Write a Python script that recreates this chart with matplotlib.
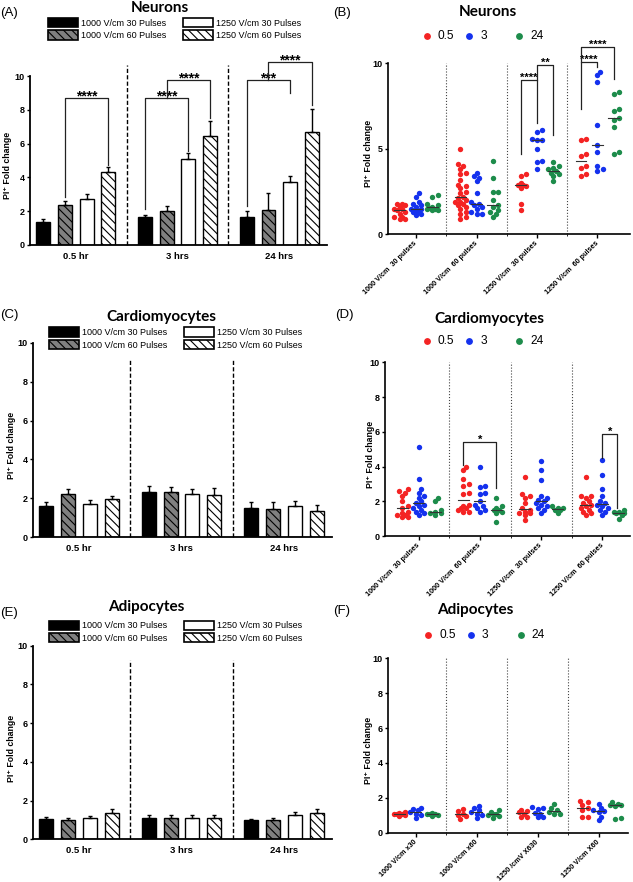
import numpy as np
import matplotlib
matplotlib.use("Agg")
import matplotlib.pyplot as plt
from matplotlib.patches import Patch
from matplotlib.lines import Line2D

plt.rcParams['font.family'] = ['Liberation Sans', 'DejaVu Sans']
plt.rcParams['hatch.linewidth'] = 0.8

# ---------------- data ----------------
timepoints = ['0.5 hr', '3 hrs', '24 hrs']
series_labels = ['1000 V/cm 30 Pulses', '1000 V/cm 60 Pulses',
                 '1250 V/cm 30 Pulses', '1250 V/cm 60 Pulses']

# Neurons (A) means / upper SEM per time point
neu_1000_30 = [1.38, 1.66, 1.68]
neu_1000_60 = [2.37, 2.03, 2.07]
neu_1250_30 = [2.72, 5.10, 3.71]
neu_1250_60 = [4.34, 6.47, 6.70]
neu_err_1000_30 = [0.14, 0.14, 0.35]
neu_err_1000_60 = [0.21, 0.28, 1.03]
neu_err_1250_30 = [0.28, 0.32, 0.37]
neu_err_1250_60 = [0.29, 0.89, 1.37]

# Cardiomyocytes (C)
car_1000_30 = [1.63, 2.35, 1.49]
car_1000_60 = [2.21, 2.31, 1.47]
car_1250_30 = [1.71, 2.23, 1.59]
car_1250_60 = [1.97, 2.19, 1.37]
car_err_1000_30 = [0.20, 0.29, 0.34]
car_err_1000_60 = [0.26, 0.26, 0.36]
car_err_1250_30 = [0.21, 0.27, 0.28]
car_err_1250_60 = [0.17, 0.33, 0.29]

# Adipocytes (E)
adi_1000_30 = [1.07, 1.12, 1.00]
adi_1000_60 = [1.02, 1.12, 1.00]
adi_1250_30 = [1.08, 1.10, 1.24]
adi_1250_60 = [1.34, 1.12, 1.36]
adi_err_1000_30 = [0.08, 0.13, 0.07]
adi_err_1000_60 = [0.10, 0.13, 0.10]
adi_err_1250_30 = [0.12, 0.15, 0.15]
adi_err_1250_60 = [0.23, 0.13, 0.21]

# Scatter panels: conditions and time points (h)
conditions_bd = ['1000 V/cm  30 pulses', '1000 V/cm  60 pulses',
                 '1250 V/cm  30 pulses', '1250 V/cm  60 pulses']
conditions_f = ['1000 V/cm x30', '1000 V/cm x60', '1250 /cmV X630', '1250 V/cm X60']
time_labels = ['0.5', '3', '24']

# Neurons (B): one list per condition
neu_t05 = [[1.8, 1.8, 1.7, 1.6, 1.5, 1.5, 1.4, 1.3, 1.2, 1.0, 1.0, 0.9, 0.9],
           [5.0, 4.1, 4.0, 3.8, 3.6, 3.5, 3.2, 2.9, 2.8, 2.7, 2.5, 2.4, 2.2,
            2.1, 2.0, 1.9, 1.9, 1.8, 1.7, 1.6, 1.5, 1.3, 1.2, 1.0, 0.9],
           [3.5, 3.4, 3.0, 2.9, 2.9, 2.8, 2.7, 1.8, 1.4],
           [5.5, 5.6, 4.6, 4.7, 4.0, 3.9, 3.5, 3.4]]
neu_t3 = [[2.4, 2.2, 1.9, 1.8, 1.7, 1.6, 1.5, 1.5, 1.4, 1.3, 1.3, 1.2, 1.1],
          [3.6, 3.4, 3.3, 3.1, 2.4, 1.9, 1.8, 1.7, 1.6, 1.5, 1.3, 1.2, 1.2],
          [6.1, 6.0, 5.6, 5.5, 5.5, 5.0, 4.3, 4.2, 3.8],
          [9.5, 9.3, 8.9, 6.4, 5.2, 4.8, 4.0, 3.8, 3.7]]
neu_t24 = [[2.3, 2.2, 1.8, 1.7, 1.6, 1.55, 1.5, 1.5, 1.45, 1.4],
           [4.3, 3.3, 2.5, 2.5, 2.0, 1.7, 1.6, 1.4, 1.3, 1.2, 1.0],
           [4.2, 4.0, 3.9, 3.8, 3.7, 3.6, 3.5, 3.4, 3.1],
           [8.3, 8.2, 7.3, 7.2, 6.8, 6.7, 6.3, 4.8, 4.7]]

# Cardiomyocytes (D)
car_t05 = [[2.7, 2.6, 2.5, 2.3, 2.0, 1.7, 1.6, 1.4, 1.3, 1.2, 1.2, 1.1, 1.1],
           [4.0, 3.8, 3.3, 3.0, 2.9, 2.5, 2.4, 1.8, 1.7, 1.6, 1.6, 1.5, 1.4, 1.4],
           [3.4, 2.4, 2.3, 2.2, 1.9, 1.6, 1.5, 1.4, 1.3, 1.3, 1.2, 0.9],
           [3.4, 2.3, 2.3, 2.2, 2.0, 1.9, 1.8, 1.7, 1.6, 1.5, 1.4, 1.3, 1.2]]
car_t3 = [[5.1, 3.3, 2.7, 2.5, 2.3, 2.2, 2.0, 1.9, 1.8, 1.7, 1.6, 1.5, 1.4, 1.3, 1.2],
          [4.0, 2.9, 2.8, 2.5, 2.4, 2.0, 1.8, 1.7, 1.6, 1.5, 1.4],
          [4.3, 3.8, 3.2, 2.3, 2.2, 2.1, 2.0, 1.9, 1.8, 1.7, 1.6, 1.5, 1.3],
          [4.4, 3.5, 2.7, 2.3, 2.0, 1.9, 1.8, 1.7, 1.6, 1.5, 1.4, 1.2]]
car_t24 = [[2.2, 2.0, 1.5, 1.4, 1.3, 1.3, 1.2],
           [2.2, 1.7, 1.6, 1.5, 1.5, 1.4, 1.3, 0.8],
           [1.7, 1.6, 1.6, 1.5, 1.5, 1.3],
           [1.5, 1.4, 1.4, 1.3, 1.3, 1.2, 1.0]]

# Adipocytes (F)
adi_t05 = [[1.2, 1.15, 1.1, 1.1, 1.05, 1.0, 0.95],
           [1.35, 1.25, 1.1, 1.0, 0.95, 0.8],
           [1.3, 1.25, 1.2, 1.1, 0.9, 0.9],
           [1.8, 1.75, 1.6, 1.4, 1.3, 0.9, 0.9]]
adi_t3 = [[1.4, 1.35, 1.3, 1.2, 1.1, 1.0, 0.85],
          [1.55, 1.4, 1.3, 1.2, 1.1, 1.0, 0.85],
          [1.5, 1.4, 1.35, 1.15, 1.1, 0.9, 0.9],
          [1.65, 1.4, 1.3, 1.25, 1.2, 0.9, 0.7]]
adi_t24 = [[1.15, 1.1, 1.05, 1.05, 1.0, 0.95],
           [1.3, 1.2, 1.1, 1.05, 1.0, 0.95, 0.85],
           [1.65, 1.4, 1.3, 1.2, 1.1, 1.1],
           [1.75, 1.65, 1.6, 1.6, 1.55, 0.85, 0.8]]

# ---------------- styling ----------------
W, H = 633, 882
fig = plt.figure(figsize=(W / 100, H / 100), dpi=100)

GROUP = 4.68
BAR_W = 0.64
bar_styles = [('black', None), ('#808080', '\\\\\\\\'), ('white', None), ('white', '\\\\\\\\')]
time_colors = ['#f42323', '#1431ee', '#1d8c4b']
TIME_OFF = [-0.27, 0.0, 0.27]


def add_ax(l, t, r, b):
    return fig.add_axes([l / W, 1 - b / H, (r - l) / W, (b - t) / H])


def style_axes(ax, lw=1.3):
    for s in ['top', 'right']:
        ax.spines[s].set_visible(False)
    for s in ['left', 'bottom']:
        ax.spines[s].set_linewidth(lw)
    ax.tick_params(axis='y', length=2.5, width=1, pad=1.5, labelsize=6.5)
    for lab in ax.get_yticklabels():
        lab.set_fontweight('bold')


def bracket(ax, x1, x2, y, yb1, yb2, txt, fs=8, dy=-0.6):
    ax.plot([x1, x1, x2, x2], [yb1, y, y, yb2], color='#222222', lw=0.9, clip_on=False, zorder=5)
    ax.annotate(txt, xy=((x1 + x2) / 2, y), xytext=(0, dy), textcoords='offset points',
                ha='center', va='baseline', fontsize=fs, fontweight='bold',
                annotation_clip=False)


def bar_panel(ax, means, errs, dash_top, label_dx):
    for i, (m, e, (fc, h)) in enumerate(zip(means, errs, bar_styles)):
        x = np.arange(len(timepoints)) * GROUP + i
        ax.bar(x, m, width=BAR_W, color=fc, edgecolor='k', hatch=h, lw=1, zorder=2)
        ax.errorbar(x, m, yerr=[np.zeros(len(m)), e], fmt='none', ecolor='k',
                    elinewidth=1, capsize=1.7, capthick=1, zorder=3)
    ax.set_xlim(-0.6, 13.05)
    ax.set_ylim(0, 10)
    ax.set_yticks(np.arange(0, 11, 2))
    centers = np.arange(len(timepoints)) * GROUP + 1.5
    ax.set_xticks(centers)
    ax.set_xticklabels(timepoints, fontsize=6.8, fontweight='bold')
    ax.tick_params(axis='x', length=0, pad=5)
    for g in range(len(timepoints) - 1):
        xm = g * GROUP + 3 + (GROUP - 3) / 2
        ax.plot([xm, xm], [0, dash_top], ls=(0, (3, 1.6)), color='k', lw=1, clip_on=False)
    style_axes(ax)
    ax.set_ylabel('PI⁺ Fold change', fontsize=6.3, fontweight='bold')
    ax.yaxis.set_label_coords(label_dx, 0.47)


def bar_legend(x, y):
    handles = [Patch(facecolor=fc, edgecolor='k', hatch=h, lw=1.2) for fc, h in bar_styles]
    fig.legend(handles, series_labels, ncol=2, loc='upper left',
               bbox_to_anchor=(x / W, 1 - y / H), frameon=False, fontsize=6.5,
               handlelength=3.3, handleheight=1.2, handletextpad=0.35,
               columnspacing=1.9, labelspacing=0.3, borderpad=0, borderaxespad=0)


def swarm_x(vals, center, xppu, yppu, diam=5.4, max_off=7.5):
    """Deterministic beeswarm-style horizontal spreading of points (layout only)."""
    vals = np.asarray(vals, float)
    xs = np.zeros(len(vals))
    placed = []
    step = diam * 0.5
    nmax = int(max_off / step)
    cands = [0.0]
    for m in range(1, nmax + 1):
        cands += [m * step, -m * step]
    min_d = diam * 0.8
    for i in np.argsort(vals):
        y = vals[i] * yppu
        best, best_d = None, -1
        for off in cands:
            d = min([np.hypot(off - px, y - py) for px, py in placed] + [1e9])
            if d >= min_d:
                best = off
                break
            if d > best_d:
                best, best_d = off, d
        placed.append((best, y))
        xs[i] = center + best / xppu
    return xs


def scatter_panel(ax, series, labels, xlim, px_box, yticks, label_dx):
    l, t, r, b = px_box
    xppu = (r - l) / (xlim[1] - xlim[0])
    yppu = (b - t) / 10
    for ti, ser in enumerate(series):
        for ci, vals in enumerate(ser):
            c = ci + TIME_OFF[ti]
            xs = swarm_x(vals, c, xppu, yppu)
            ax.scatter(xs, vals, s=15, color=time_colors[ti], lw=0, zorder=3)
            ax.plot([c - 0.09, c + 0.09], [np.median(vals)] * 2, color='#333333', lw=0.8, zorder=4)
    ax.set_xlim(*xlim)
    ax.set_ylim(0, 10)
    ax.set_yticks(yticks)
    ax.set_xticks(np.arange(len(labels)))
    ax.set_xticklabels(labels, rotation=45, ha='right', va='center', rotation_mode='anchor',
                       fontsize=5.2, fontweight='bold')
    ax.set_xticks(np.arange(len(labels) - 1) + 0.5, minor=True)
    ax.tick_params(axis='x', which='major', length=3, width=1, pad=3)
    ax.tick_params(axis='x', which='minor', length=1.5, width=0.6)
    for k in range(len(labels) - 1):
        ax.axvline(k + 0.5, ymin=0, ymax=1.0, ls=':', color='#444444', lw=0.8)
    style_axes(ax, lw=1.2)
    ax.set_ylabel('PI⁺ Fold change', fontsize=6.3, fontweight='bold')
    ax.yaxis.set_label_coords(label_dx, 0.47)


def scatter_legend(x_red, y):
    xs = [x_red, x_red + 42.5, x_red + 92.5]
    for x, c, lab in zip(xs, time_colors, time_labels):
        fig.add_artist(Line2D([x / W], [1 - y / H], marker='o', ls='', color=c,
                              markersize=3.9, transform=fig.transFigure))
        fig.text((x + 11) / W, 1 - y / H, lab, fontsize=8.6, ha='left', va='center')


def title(x, y_base, txt):
    fig.text(x / W, 1 - y_base / H, txt, ha='center', va='baseline', fontsize=11,
             fontweight='bold', family=['Lato', 'DejaVu Sans'])


def panel_label(x, y, txt):
    fig.text(x / W, 1 - y / H, txt, ha='left', va='center', fontsize=9.5)


# ---------------- Panel A ----------------
axA = add_ax(30, 76, 327, 245)
bar_panel(axA, [neu_1000_30, neu_1000_60, neu_1250_30, neu_1250_60],
          [neu_err_1000_30, neu_err_1000_60, neu_err_1250_30, neu_err_1250_60],
          10.65, -0.06)
bracket(axA, 1, 3, 8.68, 2.85, 4.75, '****', fs=10, dy=-1.7)
bracket(axA, GROUP, GROUP + 2, 8.68, 2.15, 5.55, '****', fs=10, dy=-1.7)
bracket(axA, GROUP + 1, GROUP + 3, 9.76, 8.68, 7.5, '****', fs=10, dy=-1.7)
bracket(axA, 2 * GROUP, 2 * GROUP + 2, 9.76, 2.3, 8.97, '***', fs=10, dy=-1.7)
bracket(axA, 2 * GROUP + 1, 2 * GROUP + 3, 10.8, 9.76, 8.3, '****', fs=10, dy=-1.7)
bar_legend(48, 18)
title(160, 12, 'Neurons')
panel_label(0, 13, '(A)')

# ---------------- Panel C ----------------
axC = add_ax(33, 342.7, 332, 537.3)
bar_panel(axC, [car_1000_30, car_1000_60, car_1250_30, car_1250_60],
          [car_err_1000_30, car_err_1000_60, car_err_1250_30, car_err_1250_60],
          9.1, -0.057)
bar_legend(49, 327.5)
title(161, 321, 'Cardiomyocytes')
panel_label(0, 315, '(C)')

# ---------------- Panel E ----------------
axE = add_ax(33, 645.7, 332, 839.3)
bar_panel(axE, [adi_1000_30, adi_1000_60, adi_1250_30, adi_1250_60],
          [adi_err_1000_30, adi_err_1000_60, adi_err_1250_30, adi_err_1250_60],
          9.26, -0.057)
bar_legend(49, 620.5)
title(146, 611, 'Adipocytes')
panel_label(0, 613, '(E)')

# ---------------- Panel B ----------------
boxB = (388.3, 63.3, 630, 234.3)
axB = add_ax(*boxB)
scatter_panel(axB, [neu_t05, neu_t3, neu_t24], conditions_bd, (-0.46, 3.54), boxB, [0, 5, 10], -0.062)
bracket(axB, 2 + TIME_OFF[0], 2, 9.03, 4.7, 6.5, '****')
bracket(axB, 2, 2 + TIME_OFF[2], 9.9, 9.03, 5.8, '**')
bracket(axB, 3 + TIME_OFF[0], 3, 10.1, 7.3, 9.8, '****')
bracket(axB, 3 + TIME_OFF[0], 3 + TIME_OFF[2], 10.97, 10.1, 9.1, '****')
scatter_legend(426.7, 36)
title(488, 16.5, 'Neurons')
panel_label(333, 13, '(B)')

# ---------------- Panel D ----------------
boxD = (385, 362.3, 630, 536)
axD = add_ax(*boxD)
scatter_panel(axD, [car_t05, car_t3, car_t24], conditions_bd, (-0.55, 3.45), boxD,
              np.arange(0, 11, 2), -0.041)
bracket(axD, 1 + TIME_OFF[0], 1 + TIME_OFF[2], 5.43, 4.1, 2.75, '*')
bracket(axD, 3, 3 + TIME_OFF[2] - 0.03, 5.9, 4.5, 1.6, '*')
scatter_legend(426.7, 341)
title(489, 323, 'Cardiomyocytes')
panel_label(335, 315, '(D)')

# ---------------- Panel F ----------------
boxF = (388.3, 658.3, 628, 832.7)
axF = add_ax(*boxF)
scatter_panel(axF, [adi_t05, adi_t3, adi_t24], conditions_f, (-0.45, 3.48), boxF,
              np.arange(0, 11, 2), -0.062)
scatter_legend(428, 635)
title(475, 614, 'Adipocytes')
panel_label(333, 611, '(F)')

fig.savefig('out.png', dpi=100)
